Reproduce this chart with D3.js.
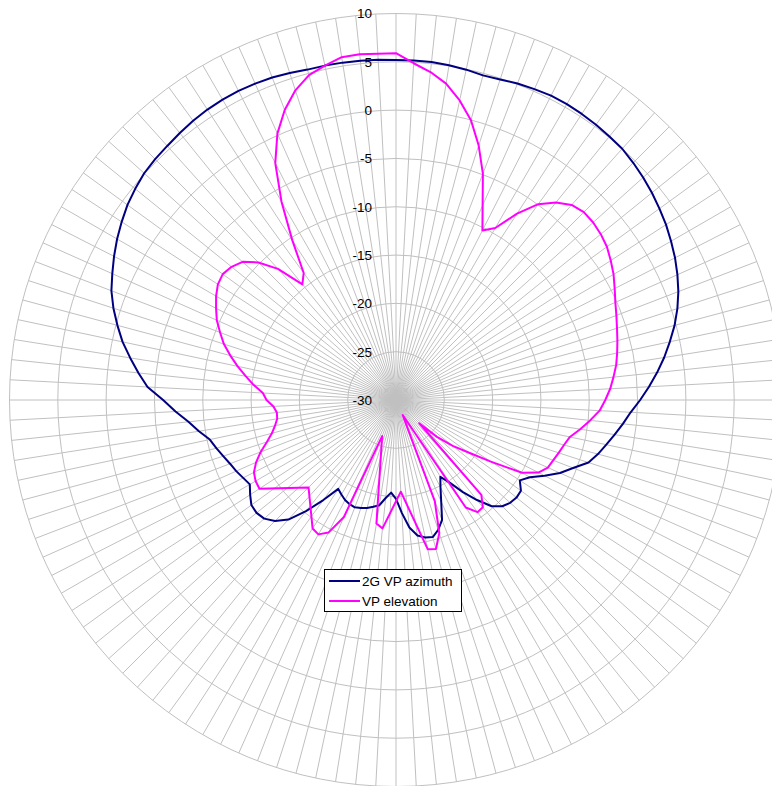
<!DOCTYPE html>
<html>
<head>
<meta charset="utf-8">
<script src="https://cdn.jsdelivr.net/npm/d3@7"></script>
<style>
  html, body { margin: 0; padding: 0; background: #ffffff; }
  svg { display: block; }
  text { font-family: "Liberation Sans", Arial, sans-serif; }
</style>
</head>
<body>
<svg id="chart" width="772" height="786"></svg>
<script>
// Categories: bearing in degrees (one spoke every 3 degrees)
const categories = d3.range(0, 360, 3);

// Radial axis ticks (dB)
const radialTicks = [-30, -25, -20, -15, -10, -5, 0, 5, 10];

const seriesNames = ["2G VP azimuth", "VP elevation"];

// 2G VP azimuth (dB), one value per category
const azimuth = [
  5.2, 5.19, 5.17, 5.08, 4.95, 4.78, 4.88, 5.08, 5.22, 5.35,
  5.36, 5.3, 5.22, 5.1, 4.99, 4.72, 4.42, 4.08, 3.7, 3.32,
  2.87, 2.41, 1.88, 1.3, 0.62, -0.15, -1.03, -1.9, -2.83, -3.78,
  -4.73, -5.68, -6.39, -7.09, -7.75, -8.36, -9.05, -10.37, -11.42, -12.75,
  -14.0, -14.72, -14.02, -13.95, -14.1, -14.45, -15.2, -16.68, -18.22, -19.8,
  -20.82, -19.86, -18.5, -16.7, -15.86, -15.31, -15.45, -15.8, -16.74, -18.28,
  -19.77, -20.4, -19.8, -18.97, -18.7, -18.43, -18.25, -18.1, -18.2, -18.38,
  -18.7, -19.03, -17.2, -15.2, -13.35, -12.3, -11.65, -11.43, -11.5, -12.0,
  -12.53, -12.25, -11.9, -11.6, -11.2, -10.75, -10.3, -9.35, -8.4, -7.15,
  -5.9, -4.25, -3.2, -2.15, -1.07, -0.15, 0.75, 1.55, 2.14, 2.75,
  3.33, 3.85, 4.35, 4.73, 5.07, 5.25, 5.38, 5.55, 5.72, 5.84,
  5.9, 5.91, 5.84, 5.75, 5.58, 5.4, 5.38, 5.35, 5.31, 5.25
];

// VP elevation (dB), one value per category; null = no measurement (line joins neighbours)
const elevation = [
  5.89, 4.9, 4.13, 3.15, 1.69, -0.02, -2.31, -4.91, null, -10.3,
  -9.45, -7.0, -4.95, -3.69, -2.84, -2.51, -2.54, -2.73, -3.02, -3.5,
  -4.0, -4.6, -5.15, -5.57, -5.95, -6.28, -6.6, -6.93, -7.37, -7.8,
  -8.34, -8.9, -9.8, -10.7, -11.6, -12.0, -12.3, -12.58, -12.8, -13.46,
  -14.94, -18.3, -20.8, -22.45, -24.3, -26.6, -16.8, -15.72, -15.65, -16.74,
  null, null, -28.3, -18.8, -15.5, -14.03, -14.22, null, null, -20.5,
  null, null, -16.64, -17.05, null, null, null, -26.0, -16.75, -14.6,
  -13.94, -14.15, null, null, null, -17.2, null, null, null, -13.15,
  -13.22, -13.5, -14.15, -15.0, -15.95, -16.7, -17.2, -17.55, -17.6, -17.3,
  -16.6, -16.2, -15.2, -14.25, -13.25, -12.25, -11.27, -10.5, -9.7, -9.1,
  -8.5, -8.02, -7.84, -8.1, -8.63, -9.87, -11.74, -14.6, -13.75, -10.3,
  -6.3, -2.48, 0.18, 2.14, 3.7, 4.8, 5.38, 5.92, 5.98, null
];

const colors = ["#000080", "#FF00FF"];

// ---- layout ----
const cx = 396, cy = 400, R = 386.5;
const svg = d3.select("#chart");
const g = svg.append("g").attr("transform", `translate(${cx},${cy})`);

const r = d3.scaleLinear().domain([radialTicks[0], radialTicks[radialTicks.length - 1]]).range([0, R]);
const ang = d3.scaleLinear().domain([0, 360]).range([0, 2 * Math.PI]);

const gridColor = "#c0c0c0";

// rings
g.append("g").selectAll("circle")
  .data(radialTicks.filter(t => t > radialTicks[0]))
  .join("circle")
  .attr("r", d => r(d))
  .attr("fill", "none")
  .attr("stroke", gridColor)
  .attr("stroke-width", 1);

// spokes
g.append("g").selectAll("line")
  .data(categories)
  .join("line")
  .attr("x1", 0).attr("y1", 0)
  .attr("x2", d => R * Math.sin(ang(d)))
  .attr("y2", d => -R * Math.cos(ang(d)))
  .attr("stroke", gridColor)
  .attr("stroke-width", 1);

// series
const radial = d3.lineRadial()
  .angle(d => ang(d.c))
  .radius(d => r(d.v))
  .curve(d3.curveLinearClosed);

[azimuth, elevation].forEach((vals, si) => {
  const pts = categories.map((c, i) => ({ c, v: vals[i] })).filter(d => d.v !== null);
  g.append("path")
    .attr("d", radial(pts))
    .attr("fill", "none")
    .attr("stroke", colors[si])
    .attr("stroke-width", 2)
    .attr("stroke-linejoin", "round");
});

// radial tick labels
g.append("g").selectAll("text")
  .data(radialTicks)
  .join("text")
  .attr("x", -24)
  .attr("y", d => -r(d))
  .attr("dy", "0.36em")
  .attr("text-anchor", "end")
  .attr("font-size", "13.5px")
  .attr("fill", "#000")
  .text(d => d);

// legend
const lg = svg.append("g").attr("transform", "translate(324.5,569.5)");
lg.append("rect")
  .attr("width", 137).attr("height", 42)
  .attr("fill", "#fff").attr("stroke", "#000").attr("stroke-width", 1);
seriesNames.forEach((name, i) => {
  const y = 11.5 + i * 20;
  lg.append("line")
    .attr("x1", 4.5).attr("x2", 35.5).attr("y1", y).attr("y2", y)
    .attr("stroke", colors[i]).attr("stroke-width", 2);
  lg.append("text")
    .attr("x", 37.5).attr("y", y).attr("dy", "0.36em")
    .attr("font-size", "13.5px").attr("fill", "#000")
    .text(name);
});
</script>
</body>
</html>
